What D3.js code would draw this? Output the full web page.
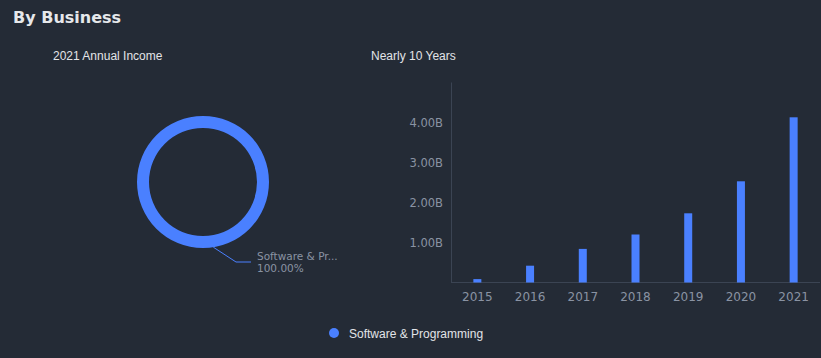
<!DOCTYPE html>
<html><head><meta charset="utf-8">
<script src="https://cdn.jsdelivr.net/npm/d3@7"></script>
<style>
html,body{margin:0;padding:0;background:#242b36;}
svg{display:block;font-family:"DejaVu Sans",Verdana,sans-serif;}
</style></head>
<body>
<svg id="c" width="821" height="358"></svg>
<script>
const categories = ["2015","2016","2017","2018","2019","2020","2021"];
const values = [0.085e9, 0.42e9, 0.84e9, 1.2e9, 1.73e9, 2.53e9, 4.13e9];
const yTicks = [1e9, 2e9, 3e9, 4e9];
const pieNames = ["Software & Programming"];
const pieValues = [100];

const svg = d3.select("#c");
const blue = "#4a80ff";
const grey = "#8a93a3";
const light = "#e2e4e8";

svg.append("rect").attr("width",821).attr("height",358).attr("fill","#242b36");

svg.append("text").attr("x",13).attr("y",23).attr("fill","#e6e8eb")
  .attr("font-size",16).attr("font-weight","bold").text("By Business");
svg.append("text").attr("x",53).attr("y",60).attr("fill",light)
  .attr("font-size",12).attr("font-family","Liberation Sans, Arial, sans-serif").text("2021 Annual Income");
svg.append("text").attr("x",371).attr("y",60).attr("fill",light)
  .attr("font-size",12).attr("font-family","Liberation Sans, Arial, sans-serif").text("Nearly 10 Years");

// Donut
const cx = 203, cy = 182;
const pie = d3.pie().sort(null)(pieValues);
const arc = d3.arc().innerRadius(54).outerRadius(66);
const g = svg.append("g").attr("transform",`translate(${cx},${cy})`);
g.selectAll("path").data(pie).enter().append("path").attr("d",arc).attr("fill",blue);
// label line
const ang = Math.PI * 0.95;
const r0 = 66;
const p0 = [Math.sin(ang)*r0, -Math.cos(ang)*r0];
g.append("polyline")
  .attr("points", `${p0[0]},${p0[1]} ${236-cx},${262-cy} ${251-cx},${262-cy}`)
  .attr("fill","none").attr("stroke",blue).attr("stroke-width",1);
const total = d3.sum(pieValues);
const nm = pieNames[0].length > 13 ? pieNames[0].slice(0,13) + "..." : pieNames[0];
svg.append("text").attr("x",257).attr("y",259.5).attr("fill",grey).attr("font-size",10.5)
  .text(nm);
svg.append("text").attr("x",257).attr("y",271.5).attr("fill",grey).attr("font-size",10.5)
  .text((pieValues[0]/total*100).toFixed(2)+"%");

// Bars
const x = d3.scaleBand().domain(categories).range([451,820]);
const y = d3.scaleLinear().domain([0,5e9]).range([282.5,82.5]);
const axisColor = "#3b4453";
svg.append("line").attr("x1",451.5).attr("x2",451.5).attr("y1",y(5e9)).attr("y2",y(0)).attr("stroke",axisColor);
svg.append("line").attr("x1",451).attr("x2",820).attr("y1",282.5).attr("y2",282.5).attr("stroke",axisColor);
const bw = 8;
svg.selectAll("rect.bar").data(values).enter().append("rect").attr("class","bar")
  .attr("x",(d,i)=>x(categories[i])+x.bandwidth()/2-bw/2)
  .attr("width",bw)
  .attr("y",d=>y(d)).attr("height",d=>y(0)-y(d)).attr("fill",blue);
svg.selectAll("text.yt").data(yTicks).enter().append("text").attr("class","yt")
  .attr("x",443).attr("y",d=>y(d)+4).attr("text-anchor","end")
  .attr("fill",grey).attr("font-size",11.5).text(d=>(d/1e9).toFixed(2)+"B");
svg.selectAll("text.xt").data(categories).enter().append("text").attr("class","xt")
  .attr("x",d=>x(d)+x.bandwidth()/2).attr("y",301).attr("text-anchor","middle")
  .attr("fill",grey).attr("font-size",12).text(d=>d);

// Legend
svg.append("circle").attr("cx",334).attr("cy",333).attr("r",5).attr("fill",blue);
svg.append("text").attr("x",349).attr("y",337.5).attr("fill",light)
  .attr("font-size",12).attr("font-family","Liberation Sans, Arial, sans-serif").text(pieNames[0]);
</script>
</body></html>
